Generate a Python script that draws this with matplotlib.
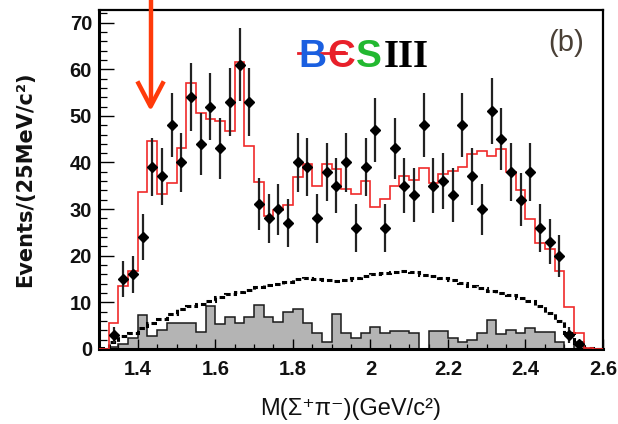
import numpy as np
import matplotlib
matplotlib.use("Agg")
import matplotlib.pyplot as plt
from matplotlib.ticker import MultipleLocator, FixedLocator, FixedFormatter
from matplotlib.lines import Line2D

# ---------------- data (52 bins of 25 MeV from 1.30 to 2.60 GeV) ----------------
bin_start = 1.30
bin_width = 0.025
n_bins = 52

data_counts = [0, 3, 15, 16, 24, 39, 37, 48, 40, 54,
               44, 52, 43, 53, 61, 53, 31, 28, 30, 27,
               40, 39, 28, 38, 35, 40, 26, 39, 47, 26,
               43, 35, 33, 48, 35, 36, 33, 48, 37, 30,
               51, 45, 38, 32, 38, 26, 23, 20, 3, 1,
               0, 0]

fit_total = [0.0, 5.5, 13.5, 16.7, 33.6, 44.5, 33.3, 35.7, 43.2, 57.0,
             50.7, 49.4, 49.0, 46.7, 61.6, 43.6, 35.9, 28.6, 29.8, 30.9,
             36.8, 39.7, 35.0, 39.7, 38.6, 34.4, 33.2, 36.1, 30.5, 32.1,
             35.0, 37.1, 36.3, 38.9, 35.7, 37.5, 38.2, 39.1, 41.8, 42.4,
             41.4, 42.9, 37.9, 34.1, 27.9, 22.7, 21.5, 16.7, 9.0, 3.5,
             0.3, 0.1]

phase_space = [0.3, 1.4, 2.8, 3.5, 4.4, 5.5, 6.5, 7.6, 8.5, 9.2,
               9.6, 10.2, 11.1, 11.7, 12.2, 12.6, 13.2, 13.7, 14.0, 14.4,
               15.1, 15.3, 15.0, 14.8, 14.6, 14.7, 15.3, 15.7, 16.0, 16.2,
               16.5, 16.8, 16.5, 15.9, 15.6, 15.2, 14.8, 14.2, 13.5, 13.0,
               12.4, 12.0, 11.6, 11.0, 10.2, 9.3, 7.8, 6.0, 3.4, 1.2,
               0.3, 0.0]

sideband = [0.0, 0.5, 1.0, 2.3, 7.2, 2.8, 4.1, 5.6, 5.6, 5.6,
            3.7, 9.2, 5.3, 6.9, 5.6, 6.9, 9.4, 6.9, 5.7, 8.0,
            8.6, 5.6, 3.5, 1.4, 7.5, 3.5, 2.3, 3.5, 4.8, 3.4,
            3.9, 3.8, 3.5, 0.0, 3.9, 3.9, 2.3, 1.4, 2.0, 3.5,
            6.2, 3.3, 4.0, 3.5, 4.6, 3.7, 3.7, 1.4, 0.0, 1.4,
            0.0, 0.0]

x_ticks = [1.4, 1.6, 1.8, 2.0, 2.2, 2.4, 2.6]
x_tick_labels = ["1.4", "1.6", "1.8", "2", "2.2", "2.4", "2.6"]
y_ticks = [0, 10, 20, 30, 40, 50, 60, 70]

arrow_x = 1.433          # marked position (GeV/c^2)
arrow_tip, arrow_top = 52.0, 75.0

# ---------------- figure ----------------
W, H = 618, 424
fig = plt.figure(figsize=(W / 100, H / 100), dpi=100)
ax = fig.add_axes([99 / W, 1 - 349 / H, (603 - 99) / W, (349 - 10) / H])

edges = bin_start + bin_width * np.arange(n_bins + 1)
centers = 0.5 * (edges[:-1] + edges[1:])
counts = np.array(data_counts, dtype=float)

# grey sideband histogram
ax.stairs(sideband, edges, fill=True, facecolor="#b4b4b4", edgecolor="none", zorder=1)
ax.stairs(sideband, edges, color="#1a1a1a", lw=1.1, baseline=None, zorder=2)

# dashed phase-space curve
ax.stairs(phase_space, edges, color="black", lw=2.2, linestyle=(0, (1.8, 1.0)),
          baseline=None, zorder=3)

# red total fit
ax.stairs(fit_total, edges, color="#f02a2a", lw=1.2, baseline=0, zorder=4)

# data points
m = counts > 0
ax.errorbar(centers[m], counts[m], yerr=np.sqrt(counts[m]), fmt="D", ms=4.8,
            color="black", ecolor="#222222", elinewidth=1.6, capsize=0, zorder=5)

ax.set_xlim(bin_start, bin_start + bin_width * n_bins)
ax.set_ylim(0, 72.7)

ax.xaxis.set_major_locator(FixedLocator(x_ticks))
ax.xaxis.set_major_formatter(FixedFormatter(x_tick_labels))
ax.xaxis.set_minor_locator(MultipleLocator(0.05))
ax.yaxis.set_major_locator(FixedLocator(y_ticks))
ax.yaxis.set_minor_locator(MultipleLocator(2))

ax.tick_params(which="both", direction="in", top=False, right=False, color="black")
ax.tick_params(axis="x", which="major", length=7, width=1.0, pad=8)
ax.tick_params(axis="x", which="minor", length=3.5, width=0.9)
ax.tick_params(axis="y", which="major", length=11, width=1.0, pad=5)
ax.tick_params(axis="y", which="minor", length=5.5, width=0.9)
for lab in ax.get_xticklabels() + ax.get_yticklabels():
    lab.set_fontfamily(["Liberation Sans", "DejaVu Sans"])
    lab.set_fontweight("bold")
    lab.set_fontsize(14.5)
    lab.set_color("#111111")

for s in ax.spines.values():
    s.set_linewidth(1.6)
    s.set_color("black")
ax.spines["left"].set_linewidth(2.2)
ax.spines["bottom"].set_linewidth(2.2)

ax.set_ylabel("Events/(25MeV/c²)", fontsize=15, fontweight="bold",
              family=["DejaVu Sans"], color="#111111")
ax.yaxis.set_label_coords(-0.127, 0.5)
ax.set_xlabel("M(Σ⁺π⁻)(GeV/c²)", fontsize=17,
              family=["Liberation Sans", "DejaVu Sans"], color="#111111")
ax.xaxis.set_label_coords(0.5, -0.145)

# (b) label
ax.text(566 / W, 1 - 43 / H, "(b)", transform=fig.transFigure, ha="center", va="center",
        fontsize=21, color="#4a4036", family=["Liberation Sans", "DejaVu Sans"])

# BESIII logo
logo_base = 1 - 67 / H
logo_font = ["Liberation Sans", "DejaVu Sans"]
logo_size = 28
fig.text(312 / W, logo_base, "B", ha="center", va="baseline", fontsize=logo_size,
         fontweight="bold", color="#1a5fe0", family=logo_font)
fig.text(341 / W, logo_base, "Є", ha="center", va="baseline", fontsize=logo_size,
         fontweight="bold", color="#e8202a", family=logo_font)
fig.text(369 / W, logo_base, "S", ha="center", va="baseline", fontsize=logo_size,
         fontweight="bold", color="#22b830", family=logo_font)
fig.text(406 / W, logo_base, "III", ha="center", va="baseline", fontsize=logo_size,
         fontweight="bold", color="black", family=["Liberation Serif", "DejaVu Serif"])
fig.add_artist(Line2D([298 / W, 346 / W], [1 - 53 / H, 1 - 53 / H], color="#e8202a",
                      lw=2.0, transform=fig.transFigure))

# red arrow marking the threshold structure
arrow_kw = dict(color="#ff3a0a", lw=3.2, clip_on=False, zorder=6, solid_capstyle="butt")
ax.plot([arrow_x, arrow_x], [arrow_tip + 0.3, arrow_top], **arrow_kw)
ax.plot([arrow_x - 0.034, arrow_x, arrow_x + 0.034],
        [arrow_tip + 5.4, arrow_tip, arrow_tip + 5.4], **arrow_kw)

fig.savefig("out.png", dpi=100)
